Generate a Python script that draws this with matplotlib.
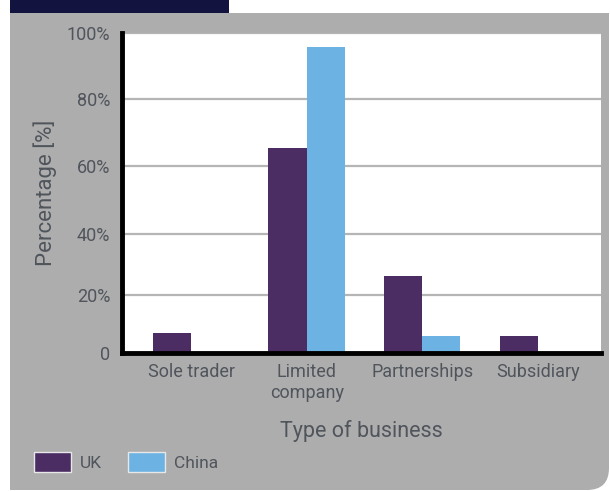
import numpy as np
import matplotlib
matplotlib.use("Agg")
import matplotlib.pyplot as plt
from matplotlib.path import Path
from matplotlib.patches import PathPatch, Rectangle

categories = ["Sole trader", "Limited\ncompany", "Partnerships", "Subsidiary"]
uk_values = [6.9, 65.4, 26.2, 5.9]
china_values = [0.0, 95.8, 5.9, 0.0]
series_names = ["UK", "China"]
y_ticks = [0, 20, 40, 60, 80, 100]
y_tick_labels = ["0", "20%", "40%", "60%", "80%", "100%"]
# the original axis is drawn with uneven spacing between gridlines
y_tick_positions = [0, 58, 119, 187, 254, 320]

UK_C = "#4b2d63"
CN_C = "#6cb2e2"
TXT = "#50555c"
BG = "#adadad"

W, H = 610, 491
fig = plt.figure(figsize=(6.10, 4.91), dpi=100, facecolor="white")
plt.rcParams["font.family"] = ["Roboto", "DejaVu Sans"]

def fx(x):
    return x / W

def fy(y):
    return 1 - y / H

# gray panel with rounded bottom-right corner
r = 22
verts = [(fx(10), fy(13)), (fx(609), fy(13)), (fx(609), fy(490 - r)),
         (fx(609), fy(490)), (fx(609 - r), fy(490)), (fx(10), fy(490)),
         (fx(10), fy(13))]
codes = [Path.MOVETO, Path.LINETO, Path.LINETO, Path.CURVE3, Path.CURVE3,
         Path.LINETO, Path.CLOSEPOLY]
fig.patches.append(PathPatch(Path(verts, codes), transform=fig.transFigure,
                             facecolor=BG, edgecolor="none", zorder=-10))
fig.patches.append(Rectangle((fx(10), fy(13)), fx(219), 13 / H,
                             transform=fig.transFigure, facecolor="#131340",
                             edgecolor="none", zorder=-9))

left, right = 121.5, 601
top, bottom = 33, 353
ax = fig.add_axes([fx(left), fy(bottom), fx(right - left), (bottom - top) / H])
ax.set_facecolor("white")

def fwd(v):
    return np.interp(v, y_ticks, y_tick_positions)

def inv(p):
    return np.interp(p, y_tick_positions, y_ticks)

ax.set_yscale("function", functions=(fwd, inv))

x = np.arange(len(categories))
w = 0.33
ax.bar(x - w / 2, uk_values, width=w, color=UK_C, label=series_names[0], zorder=2)
ax.bar(x + w / 2, china_values, width=w, color=CN_C, label=series_names[1], zorder=2)

ax.set_ylim(0, 100)
ax.set_xlim(-0.601, 3.545)
ax.set_yticks(y_ticks)
ax.set_yticklabels(y_tick_labels)
ax.set_xticks(x)
ax.set_xticklabels(categories, linespacing=1.2)
ax.yaxis.grid(True, color="#b5b5b5", linewidth=1.6, zorder=1)
ax.set_axisbelow(True)

for s in ["top", "right"]:
    ax.spines[s].set_visible(False)
for s in ["left", "bottom"]:
    ax.spines[s].set_linewidth(3.5)
    ax.spines[s].set_color("black")
    ax.spines[s].set_zorder(3)

ax.tick_params(axis="both", length=0, labelsize=13, labelcolor=TXT)
ax.tick_params(axis="y", pad=8)
ax.tick_params(axis="x", pad=7)

ax.set_ylabel("Percentage [%]", fontsize=16, color=TXT, labelpad=7)
ax.set_xlabel("Type of business", fontsize=15.5, color=TXT, labelpad=13)

handles, labels = ax.get_legend_handles_labels()
leg = fig.legend(handles, labels, loc="center left",
                 bbox_to_anchor=(fx(34), fy(462)), ncol=2, frameon=False,
                 fontsize=12.5, handlelength=2.15, handleheight=1.4,
                 handletextpad=0.5, columnspacing=1.5, borderpad=0,
                 borderaxespad=0)
for t in leg.get_texts():
    t.set_color(TXT)
for p in leg.get_patches():
    p.set_edgecolor("#e8e8e8")
    p.set_linewidth(1.0)

fig.savefig("out.png", dpi=100, facecolor="white")
